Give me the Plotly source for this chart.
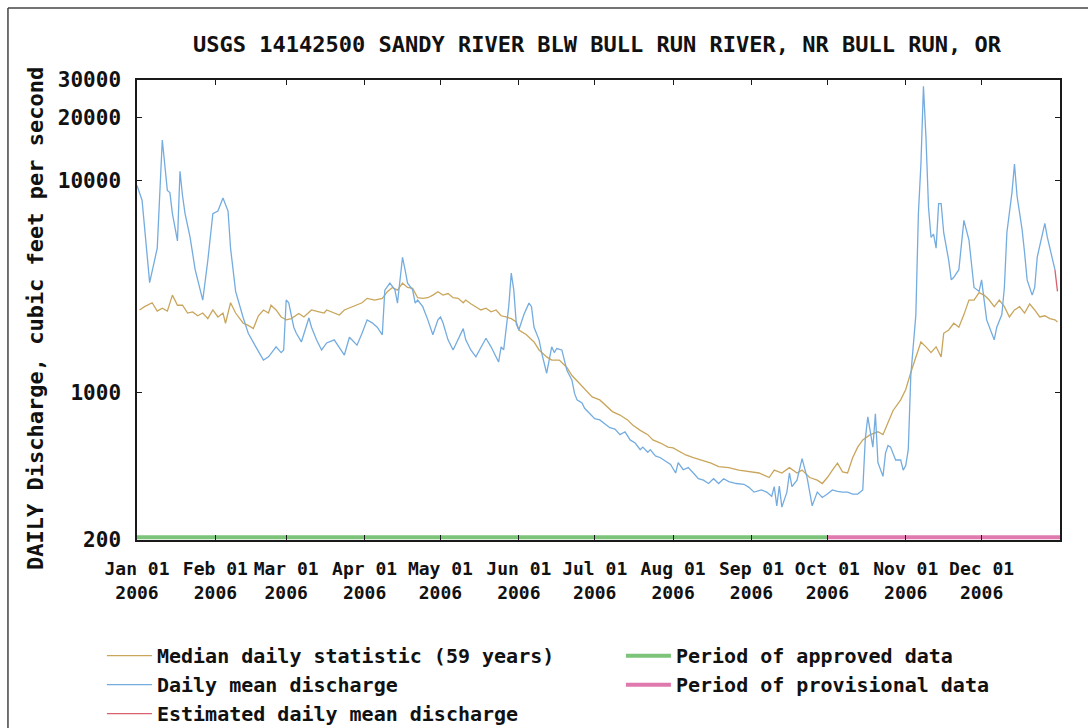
import pandas as pd
import plotly.graph_objects as go

YEAR_START = pd.Timestamp("2006-01-01")

# Daily mean discharge (cfs), keyed by day offset from Jan 1 2006
mean_days = [0, 2, 5, 8, 10, 11, 12, 13, 14, 16, 17, 18, 19, 21, 23, 26, 28, 30, 32, 34,
             36, 37, 39, 42, 44, 47, 50, 52, 55, 57, 58, 59, 60, 62, 63, 65, 66, 68, 69, 71,
             73, 75, 78, 80, 82, 84, 85, 87, 89, 91, 93, 95, 97, 98, 100, 102, 103, 105, 106, 107,
             109, 110, 111, 113, 115, 117, 119, 120, 121, 123, 125, 127, 129, 130, 132, 134, 136, 138, 140, 142,
             143, 144, 145, 147, 148, 149, 150, 151, 153, 155, 156, 157, 159, 160, 161, 162, 164, 165, 166, 168,
             169, 170, 172, 173, 174, 176, 177, 179, 181, 183, 185, 187, 189, 191, 193, 195, 197, 199, 200, 202,
             203, 205, 207, 209, 211, 213, 214, 216, 218, 220, 222, 224, 226, 228, 230, 232, 234, 237, 240, 242,
             244, 247, 249, 251, 252, 253, 254, 255, 257, 258, 259, 261, 262, 263, 265, 266, 267, 269, 271, 273,
             275, 277, 279, 281, 283, 285, 287, 288, 289, 291, 292, 293, 295, 296, 297, 298, 300, 302, 303, 304,
             305, 306, 308, 309, 310, 311, 312, 313, 314, 315, 316, 317, 318, 319, 321, 322, 323, 325, 326, 327,
             329, 330, 331, 333, 334, 335, 336, 338, 339, 340, 342, 343, 344, 346, 347, 348, 350, 351, 352, 354,
             355, 356, 358, 359, 360, 362, 363]
mean_cfs = [9500, 8100, 3300, 4800, 15600, 12000, 9000, 8800, 7000, 5200, 11100, 8500, 7000, 5400, 3800, 2730, 4200, 7000, 7200, 8300,
            7200, 4800, 3000, 2250, 1900, 1640, 1420, 1470, 1640, 1540, 1585, 2730, 2650, 2030, 1900, 1730, 1900, 2250, 2030, 1770,
            1585, 1710, 1770, 1640, 1500, 1820, 1770, 1670, 1900, 2200, 2130, 2030, 1870, 3040, 3280, 3050, 2640, 4350, 3800, 3280,
            3050, 2640, 2730, 2540, 2200, 1870, 2200, 2270, 2130, 1770, 1585, 1770, 2000, 1770, 1585, 1470, 1640, 1800, 1640, 1470,
            1390, 1640, 1585, 2540, 3660, 3040, 2100, 1970, 2330, 2640, 2540, 2030, 1770, 1540, 1380, 1230, 1640, 1540, 1610, 1585,
            1420, 1270, 1140, 990, 920, 890, 840, 790, 750, 740, 710, 680, 670, 630, 650, 595, 575, 535, 550, 520,
            535, 500, 490, 470, 455, 415, 465, 430, 440, 415, 390, 384, 370, 390, 370, 390, 378, 370, 367, 355,
            337, 345, 337, 322, 358, 290, 360, 286, 337, 415, 358, 384, 428, 485, 395, 345, 290, 337, 318, 330,
            345, 340, 337, 337, 330, 330, 345, 600, 765, 550, 790, 465, 400, 515, 560, 550, 478, 478, 428, 450,
            535, 1200, 2330, 7000, 12000, 28000, 16000, 7500, 5400, 5600, 4800, 7800, 7800, 5700, 4200, 3400, 3500, 3800, 4800, 6500,
            5250, 3900, 3130, 3000, 3400, 2730, 2200, 1900, 1770, 2030, 2330, 3130, 5700, 8800, 12000, 8500, 5900, 4560, 3400, 2880,
            3130, 4360, 5600, 6300, 5400, 4200, 3800]

# Median daily statistic over 59 years (cfs)
median_days = [1, 3, 6, 8, 10, 12, 14, 16, 18, 20, 22, 24, 26, 28, 30, 32, 34, 35, 37, 39,
               42, 44, 46, 48, 50, 52, 53, 55, 57, 59, 61, 64, 66, 69, 72, 74, 75, 78, 80, 82,
               85, 87, 89, 91, 94, 97, 99, 101, 103, 105, 107, 109, 111, 113, 115, 117, 119, 121, 123, 125,
               127, 129, 130, 132, 134, 136, 138, 140, 142, 144, 146, 148, 150, 151, 154, 157, 159, 162, 164, 167,
               170, 172, 175, 178, 180, 183, 186, 188, 191, 194, 196, 199, 202, 204, 207, 210, 212, 215, 217, 220,
               223, 227, 230, 234, 238, 242, 246, 250, 252, 255, 258, 261, 263, 266, 269, 271, 273, 275, 277, 279,
               281, 283, 285, 287, 290, 293, 295, 297, 299, 302, 304, 306, 308, 310, 312, 314, 316, 318, 319, 321,
               323, 325, 327, 329, 331, 333, 335, 337, 339, 341, 343, 345, 347, 349, 351, 353, 355, 357, 359, 361,
               363, 364]
median_cfs = [2450, 2540, 2650, 2420, 2500, 2420, 2880, 2580, 2580, 2370, 2400, 2300, 2370, 2230, 2450, 2270, 2370, 2120, 2650, 2370,
              2120, 2070, 2000, 2300, 2450, 2370, 2580, 2450, 2270, 2200, 2230, 2360, 2270, 2450, 2400, 2370, 2450, 2370, 2320, 2450,
              2540, 2580, 2650, 2780, 2730, 2780, 2990, 3130, 3040, 3280, 3130, 3100, 2800, 2780, 2800, 2880, 2990, 2880, 2930, 2800,
              2780, 2650, 2730, 2620, 2540, 2450, 2500, 2400, 2450, 2300, 2270, 2230, 2150, 1970, 1870, 1730, 1585, 1470, 1420, 1420,
              1310, 1200, 1100, 1000, 950, 920, 850, 810, 780, 740, 700, 660, 630, 595, 575, 550, 545, 520, 505, 490,
              478, 462, 445, 440, 428, 420, 415, 395, 428, 415, 440, 415, 428, 395, 384, 370, 395, 428, 462, 420,
              415, 490, 550, 595, 630, 650, 630, 720, 820, 920, 1030, 1240, 1470, 1730, 1640, 1540, 1640, 1470, 1900, 1970,
              2120, 2030, 2330, 2730, 2730, 2960, 2880, 2730, 2540, 2730, 2540, 2270, 2450, 2540, 2370, 2620, 2450, 2270, 2300, 2230,
              2200, 2150]

# Estimated daily mean discharge at the end of the year (cfs)
est_days = [363, 364]
est_cfs = [3800, 3000]

# Data-qualification periods drawn along the bottom of the plot
approved_period = ["2006-01-01", "2006-10-01"]
provisional_period = ["2006-10-01", "2007-01-01"]
period_level = 206

month_names = ["Jan", "Feb", "Mar", "Apr", "May", "Jun",
               "Jul", "Aug", "Sep", "Oct", "Nov", "Dec"]
y_ticks = [200, 1000, 10000, 20000, 30000]


def to_dates(days):
    return YEAR_START + pd.to_timedelta(days, unit="D")


FONT = "DejaVu Sans Mono"
MEDIAN_COLOR = "#C9A65C"
MEAN_COLOR = "#74ACE0"
EST_COLOR = "#D9606E"
APPROVED_COLOR = "#7CC47A"
PROVISIONAL_COLOR = "#E07AAE"

fig = go.Figure()

fig.add_trace(go.Scatter(
    x=to_dates(median_days), y=median_cfs, mode="lines",
    name="Median daily statistic (59 years)", legendrank=1,
    line=dict(color=MEDIAN_COLOR, width=1.3)))
fig.add_trace(go.Scatter(
    x=to_dates(mean_days), y=mean_cfs, mode="lines",
    name="Daily mean discharge", legendrank=3,
    line=dict(color=MEAN_COLOR, width=1.3)))
fig.add_trace(go.Scatter(
    x=to_dates(est_days), y=est_cfs, mode="lines",
    name="Estimated daily mean discharge", legendrank=5,
    line=dict(color=EST_COLOR, width=1.3)))
fig.add_trace(go.Scatter(
    x=pd.to_datetime(approved_period), y=[period_level, period_level], mode="lines",
    name="Period of approved data", legendrank=2,
    line=dict(color=APPROVED_COLOR, width=4)))
fig.add_trace(go.Scatter(
    x=pd.to_datetime(provisional_period), y=[period_level, period_level], mode="lines",
    name="Period of provisional data", legendrank=4,
    line=dict(color=PROVISIONAL_COLOR, width=4)))

tick_dates = [pd.Timestamp(2006, m, 1) for m in range(1, 13)]
tick_text = [f"{name} 01<br>2006" for name in month_names]

axis_common = dict(
    showline=True, linecolor="#1a1a1a", linewidth=1.5, mirror="ticks",
    ticks="inside", ticklen=5, tickcolor="#1a1a1a", showgrid=False, zeroline=False,
)

fig.update_xaxes(
    type="date", range=["2006-01-01", "2007-01-01"],
    tickvals=tick_dates, ticktext=tick_text, ticklabelstandoff=12,
    tickfont=dict(family=FONT, size=18, color="#111", weight="bold"),
    **axis_common)
fig.update_yaxes(
    type="log", range=[2.30103, 4.47712],
    tickvals=y_ticks, ticktext=[str(v) for v in y_ticks], ticklabelstandoff=10,
    tickfont=dict(family=FONT, size=21, color="#111", weight="bold"),
    **axis_common)

fig.update_layout(
    width=1088, height=728, autosize=False,
    margin=dict(l=137, r=28, t=80, b=188, autoexpand=False),
    paper_bgcolor="white", plot_bgcolor="white",
    showlegend=True,
    legend=dict(
        orientation="h", x=-0.038, xanchor="left", y=-0.209, yanchor="top",
        entrywidth=459, entrywidthmode="pixels", itemwidth=45,
        traceorder="normal", bgcolor="rgba(0,0,0,0)",
        font=dict(family=FONT, size=20, color="#111", weight="bold")),
    annotations=[
        dict(text="USGS 14142500 SANDY RIVER BLW BULL RUN RIVER, NR BULL RUN, OR",
             xref="paper", yref="paper", x=0.4985, y=1.078,
             xanchor="center", yanchor="middle", showarrow=False,
             font=dict(family=FONT, size=22, color="#111", weight="bold")),
        dict(text="DAILY Discharge, cubic feet per second",
             xref="paper", yref="paper", x=-0.1105, y=0.4804, textangle=-90,
             xanchor="center", yanchor="middle", showarrow=False,
             font=dict(family=FONT, size=22, color="#111", weight="bold")),
    ],
    shapes=[
        dict(type="line", xref="paper", yref="paper",
             x0=-0.1398, x1=-0.1398, y0=1.1565, y1=-0.45,
             line=dict(color="#444", width=1.5)),
        dict(type="line", xref="paper", yref="paper",
             x0=-0.1398, x1=1.05, y0=1.1565, y1=1.1565,
             line=dict(color="#444", width=1.5)),
    ],
)

fig.write_html("out.html")
